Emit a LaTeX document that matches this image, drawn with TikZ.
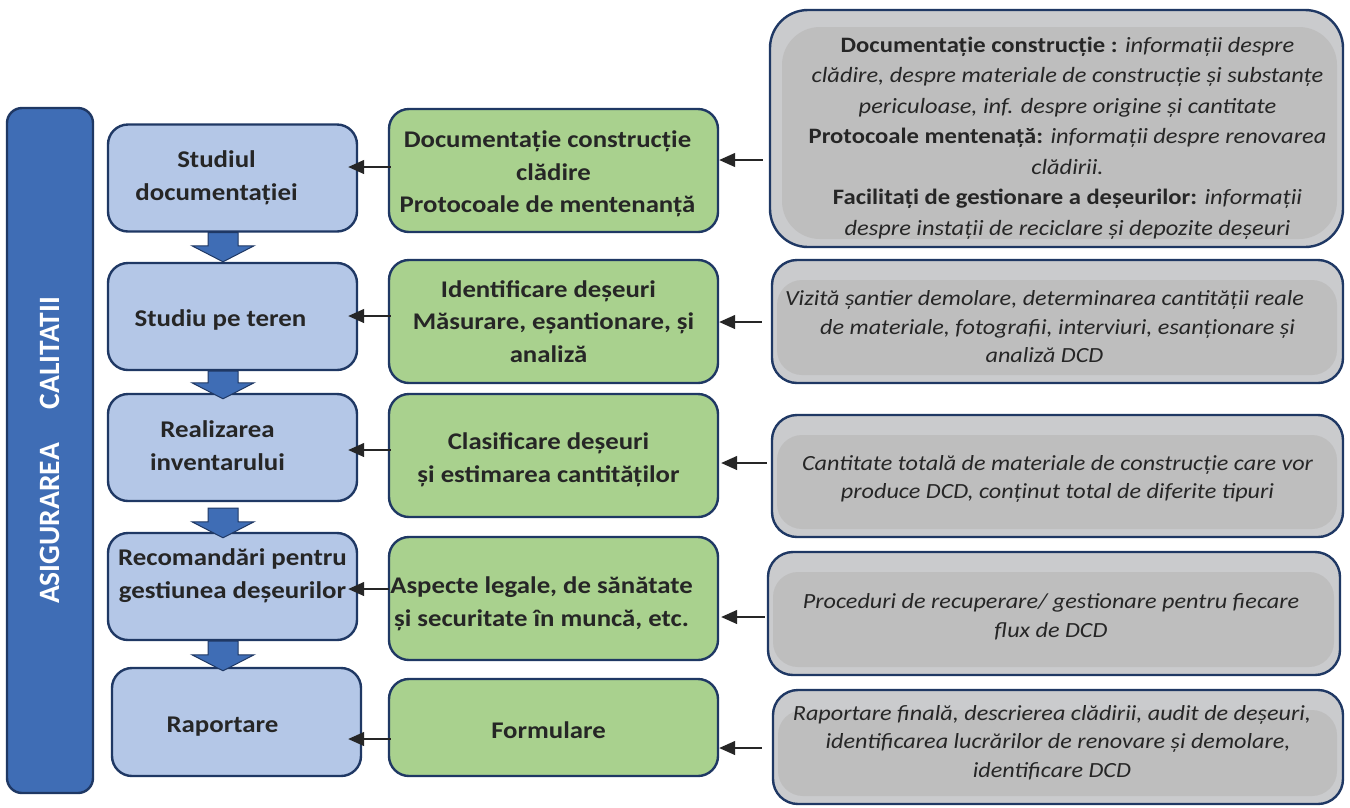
\documentclass[tikz,border=0pt]{standalone}
\usepackage{fontspec}
\setmainfont{Carlito}[FakeStretch=1.12]
\newfontfamily\barfont{Carlito}
\usetikzlibrary{arrows.meta,calc}
\definecolor{navy}{HTML}{1F3864}
\definecolor{bluefill}{HTML}{B4C7E7}
\definecolor{barblue}{HTML}{3F6DB5}
\definecolor{greenfill}{HTML}{A9D18E}
\definecolor{graylight}{HTML}{CACBCD}
\definecolor{graydark}{HTML}{BEBEBE}
\definecolor{txt}{HTML}{262626}
\newcommand\blockarrow[5]{\draw[barr] let \p1=($(#1.south)+(#3,#4)$), \p2=($(#2.north)+(0,#5)$) in
  (\x1-15pt,\y1) -- (\x1+15pt,\y1) -- (\x1+15pt,\y2+16pt) -- (\x1+31pt,\y2+16pt) -- (\x1,\y2)
  -- (\x1-31pt,\y2+16pt) -- (\x1-15pt,\y2+16pt) -- cycle;}
\newcommand\gb[1]{{\fontsize{22}{30.5}\selectfont\upshape\bfseries #1}}
\newcommand\tp[1]{\rule{0pt}{#1pt}}
\newcommand\bt[1]{\rule[-#1pt]{0pt}{1pt}}
\newcommand\sh[1]{\hspace*{#1pt}}
\begin{document}
\begin{tikzpicture}[x=1pt,y=-1pt,
  box/.style={draw=navy, line width=2.4pt, rounded corners=20pt, align=center, text=txt, inner sep=0pt},
  bluebox/.style={box, fill=bluefill, minimum width=249pt, minimum height=107pt, font=\fontsize{24}{33}\selectfont\bfseries},
  greenbox/.style={box, fill=greenfill, minimum width=329pt, minimum height=123pt, font=\fontsize{23.9}{32.5}\selectfont\bfseries},
  graybox/.style={box, fill=graylight, minimum width=571pt, minimum height=123pt, rounded corners=25pt,
    font=\fontsize{21.6}{28.5}\selectfont\itshape,
    path picture={\fill[graydark] ([xshift=5pt,yshift=-20pt]path picture bounding box.north west) rectangle ([xshift=-6pt,yshift=8pt]path picture bounding box.south east);}},
  conn/.style={draw=black!85, line width=1.3pt, -{Triangle[length=16pt,width=14pt]}},
  barr/.style={fill=barblue, draw=navy, line width=1pt},
]
\useasboundingbox (0,0) rectangle (1350,807);
\fill[white] (0,0) rectangle (1350,807);

% quality bar
\node[draw=navy, fill=barblue, line width=2.4pt, rounded corners=15pt, rotate=90,
  minimum width=685pt, minimum height=86pt, inner sep=0pt, text=white,
  font=\barfont\fontsize{29.5}{33}\selectfont\bfseries] (bar) at (50,450.5) {ASIGURAREA\hspace{34pt}CALITATII};

% blue column
\node[bluebox] (b1) at (232.5,178) {Studiul\sh{32}\\documentației\sh{32}};
\node[bluebox] (b2) at (232.5,316.5) {\tp{23}Studiu pe teren\sh{24}};
\node[bluebox] (b3) at (232.5,447.5) {Realizarea\sh{30}\\inventarului\sh{30}\bt{3}};
\node[bluebox] (b4) at (232.5,586.5) {Recomandări pentru\\gestiunea deșeurilor\bt{25}};
\node[bluebox, minimum height=108pt] (b5) at (236.5,722) {\tp{24}Raportare\sh{28}};

% green column
\node[greenbox] (g1) at (553.5,170.5) {\tp{24}Documentație construcție\sh{12}\\clădire\sh{12}\\Protocoale de mentenanță\sh{12}};
\node[greenbox] (g2) at (553.5,321.5) {Identificare deșeuri\sh{10}\\Măsurare, eșantionare, și\sh{10}\\analiză\sh{10}};
\node[greenbox] (g3) at (553.5,455.5) {\tp{25}Clasificare deșeuri\sh{10}\\și estimarea cantităților\sh{10}};
\node[greenbox] (g4) at (553.5,598.5) {\tp{27}Aspecte legale, de sănătate\sh{24}\\și securitate în muncă, etc.\sh{24}};
\node[greenbox, minimum height=97pt] (g5) at (553.5,727.5) {\tp{23}Formulare\sh{10}};

% gray column
\node[graybox, minimum width=573pt, minimum height=237pt, rounded corners=38pt, font=\fontsize{21.8}{30.5}\selectfont\itshape,
  path picture={\fill[graydark] ([xshift=12pt,yshift=-17pt]path picture bounding box.north west) rectangle ([xshift=-6pt,yshift=8pt]path picture bounding box.south east);}]
  (r1) at (1056.5,128.5) {\sh{22}\tp{34}\gb{Documentație construcție :} informații despre\\
  \sh{22}clădire, despre materiale de construcție și substanțe\\
  \sh{22}periculoase, inf. despre origine și cantitate\\
  \sh{22}\gb{Protocoale mentenață:} informații despre renovarea\\
  \sh{22}clădirii.\\
  \sh{22}\gb{Facilitați de gestionare a deșeurilor:} informații\\
  \sh{22}despre instații de reciclare și depozite deșeuri};
\node[graybox] (r2) at (1057.5,321.5) {\tp{26}Vizită șantier demolare, determinarea cantității reale\sh{26}\\de materiale, fotografii, interviuri, esanționare și\sh{26}\\analiză DCD\sh{26}};
\node[graybox, minimum height=122pt] (r3) at (1057.5,476) {\tp{21}Cantitate totală de materiale de construcție care vor\\produce DCD, conținut total de diferite tipuri};
\node[graybox, minimum width=572pt] (r4) at (1054,613.5) {\tp{22}Proceduri de recuperare/ gestionare pentru fiecare\sh{6}\\flux de DCD\sh{6}};
\node[graybox, minimum width=570pt, minimum height=114pt] (r5) at (1058,747) {Raportare finală, descrierea clădirii, audit de deșeuri,\sh{12}\\identificarea lucrărilor de renovare și demolare,\sh{12}\\identificare DCD\sh{12}\bt{12}};

% block arrows
\blockarrow{b1}{b2}{-9.5}{0}{0}
\blockarrow{b2}{b3}{-9.5}{0}{6}
\blockarrow{b3}{b4}{-9.5}{6}{6}
\blockarrow{b4}{b5}{-9.5}{0}{4}

% gray -> green
\draw[conn] ($(r1.west)+(-6,31.5)$) -- ($(g1.east)+(0,-10.5)$);
\draw[conn] ($(r2.west)+(-9,0.5)$) -- ($(g2.east)+(0,0.5)$);
\draw[conn] ($(r3.west)+(-4,-13)$) -- ($(g3.east)+(2,7.5)$);
\draw[conn] ($(r4.west)+(-2,3.5)$) -- ($(g4.east)+(2,18.5)$);
\draw[conn] ($(r5.west)+(-10,1)$) -- ($(g5.east)+(0,20.5)$);

% green -> blue
\draw[conn] ($(g1.west)+(3,-3.5)$) -- ($(b1.east)+(-10,-11)$);
\draw[conn] ($(g2.west)+(3,-5.5)$) -- ($(b2.east)+(-10,-0.5)$);
\draw[conn] ($(g3.west)+(3,-5.5)$) -- ($(b3.east)+(-10,2.5)$);
\draw[conn] ($(g4.west)+(1,-9.5)$) -- ($(b4.east)+(-10,2.5)$);
\draw[conn] ($(g5.west)+(3,11.5)$) -- ($(b5.east)+(-14,17)$);
\end{tikzpicture}
\end{document}
